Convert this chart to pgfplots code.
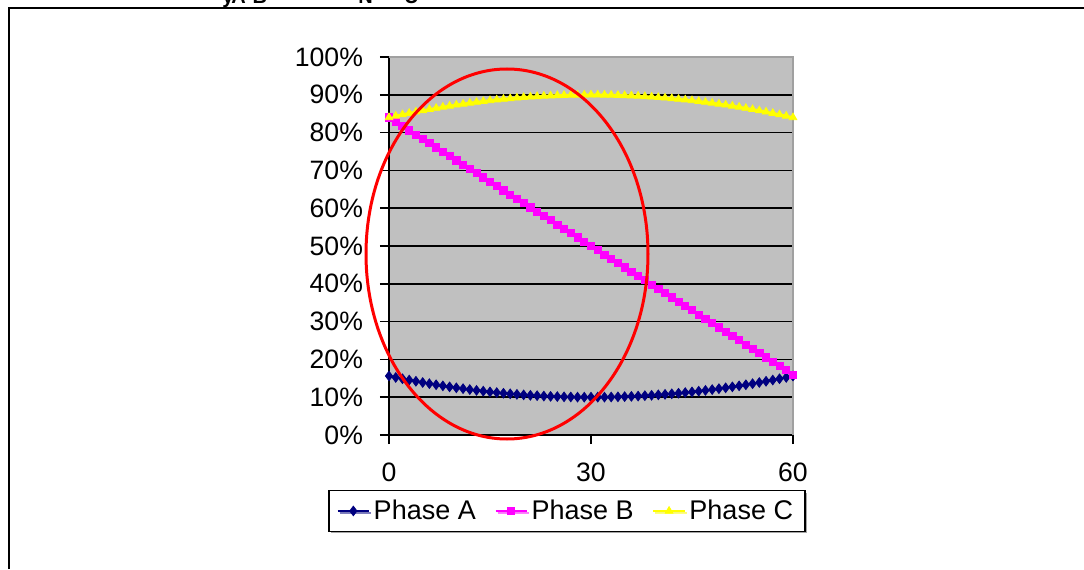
\documentclass[border=0pt]{standalone}
\usepackage{pgfplots}
\pgfplotsset{compat=1.18}
\usepackage{pgfplotstable}
\usepackage{fontspec}
\setmainfont{Liberation Sans}
\usetikzlibrary{shadows}
\definecolor{plotgray}{HTML}{C0C0C0}
\definecolor{bordergray}{HTML}{A0A0A0}
\definecolor{navyA}{HTML}{000080}
\definecolor{magB}{HTML}{FF00FF}
\definecolor{yelC}{HTML}{FFFF00}
\pgfplotstableread{
x A B C
0 15.60 84.00 84.00
1 15.23 82.87 84.39
2 14.88 81.73 84.77
3 14.54 80.60 85.14
4 14.21 79.47 85.49
5 13.89 78.33 85.83
6 13.58 77.20 86.16
7 13.29 76.07 86.47
8 13.01 74.93 86.77
9 12.74 73.80 87.06
10 12.49 72.67 87.33
11 12.25 71.53 87.59
12 12.02 70.40 87.84
13 11.80 69.27 88.07
14 11.59 68.13 88.29
15 11.40 67.00 88.50
16 11.22 65.87 88.69
17 11.05 64.73 88.87
18 10.90 63.60 89.04
19 10.75 62.47 89.19
20 10.62 61.33 89.33
21 10.50 60.20 89.46
22 10.40 59.07 89.57
23 10.30 57.93 89.67
24 10.22 56.80 89.76
25 10.16 55.67 89.83
26 10.10 54.53 89.89
27 10.06 53.40 89.94
28 10.02 52.27 89.97
29 10.01 51.13 89.99
30 10.00 50.00 90.00
31 10.01 48.87 89.99
32 10.02 47.73 89.97
33 10.06 46.60 89.94
34 10.10 45.47 89.89
35 10.16 44.33 89.83
36 10.22 43.20 89.76
37 10.30 42.07 89.67
38 10.40 40.93 89.57
39 10.50 39.80 89.46
40 10.62 38.67 89.33
41 10.75 37.53 89.19
42 10.90 36.40 89.04
43 11.05 35.27 88.87
44 11.22 34.13 88.69
45 11.40 33.00 88.50
46 11.59 31.87 88.29
47 11.80 30.73 88.07
48 12.02 29.60 87.84
49 12.25 28.47 87.59
50 12.49 27.33 87.33
51 12.74 26.20 87.06
52 13.01 25.07 86.77
53 13.29 23.93 86.47
54 13.58 22.80 86.16
55 13.89 21.67 85.83
56 14.21 20.53 85.49
57 14.54 19.40 85.14
58 14.88 18.27 84.77
59 15.23 17.13 84.39
60 15.60 16.00 84.00
}\phasedata
\begin{document}
\begin{tikzpicture}
\useasboundingbox (0,0) rectangle (542pt,284.5pt);
% outer frame
\draw[black, line width=1pt] (4.5pt,0) -- (4.5pt,280.25pt) -- (542pt,280.25pt);
% clipped title remnants (cut off at the top edge, as in the reference)
\node[anchor=base west, inner sep=0, font=\fontsize{10}{12}\selectfont\bfseries] at (111pt,282.6pt) {y};
\node[anchor=base west, inner sep=0, font=\fontsize{10}{12}\selectfont\bfseries] at (115.5pt,282.6pt) {A-B};
\node[anchor=base west, inner sep=0, font=\fontsize{10}{12}\selectfont\bfseries] at (179pt,282.6pt) {N};
\node[anchor=base west, inner sep=0, font=\fontsize{10}{12}\selectfont\bfseries] at (202pt,282.6pt) {U};
\begin{axis}[
  at={(194.5pt,67pt)}, anchor=south west,
  scale only axis, width=202pt, height=189pt,
  xmin=0, xmax=60, ymin=0, ymax=100,
  axis x line*=bottom, axis y line*=left,
  axis line style={black, line width=1pt, -},
  axis background/.style={fill=plotgray},
  /pgf/number format/assume math mode=true,
  xtick={0,30,60},
  ytick={0,10,...,90},
  yticklabels={0\%,10\%,20\%,30\%,40\%,50\%,60\%,70\%,80\%,90\%},
  extra y ticks={100}, extra y tick labels={100\%},
  extra y tick style={grid=none},
  ymajorgrids, grid style={black, line width=0.75pt},
  tick align=outside, major tick length=4.5pt,
  tick style={black, line width=0.75pt},
  ticklabel style={font=\fontsize{13.3}{15}\selectfont},
  yticklabel style={xshift=-5pt},
  xticklabel style={yshift=-6pt},
  legend columns=3,
  legend style={at={(axis description cs:0.4406,-0.201)}, anchor=center,
    draw=black, line width=0.6pt, fill=white, drop shadow={shadow xshift=1pt, shadow yshift=-1pt, fill=black!70},
    font=\fontsize{13.5}{15}\selectfont, inner xsep=4pt, inner ysep=2.5pt,
    /tikz/every even column/.append style={column sep=7.5pt}},
  legend image code/.code={\draw[#1, line width=0.75pt] (0cm,0cm) -- (0.55cm,0cm); \draw[#1, mark repeat=1] plot coordinates {(0.275cm,0cm)};},
  clip=false,
]
\addplot[navyA, line width=1pt, mark=diamond*, mark size=2.4pt, mark options={solid, fill=navyA, line width=0.4pt}] table[x=x,y=A] {\phasedata};
\addlegendentry{Phase A}
\addplot[magB, line width=1pt, mark=square*, mark size=1.8pt, mark options={solid, fill=magB, line width=0.4pt}] table[x=x,y=B] {\phasedata};
\addlegendentry{Phase B}
\addplot[yelC, line width=1.2pt, mark=triangle*, mark size=2.2pt, mark options={solid, fill=yelC, line width=0.4pt}] table[x=x,y=C] {\phasedata};
\addlegendentry{Phase C}
\draw[bordergray, line width=1pt] (rel axis cs:0,1) -- (rel axis cs:1,1) -- (rel axis cs:1,0);
\end{axis}
\draw[red, line width=1.5pt] (253.5pt,157.5pt) ellipse [x radius=70.5pt, y radius=92.5pt];
\end{tikzpicture}
\end{document}
